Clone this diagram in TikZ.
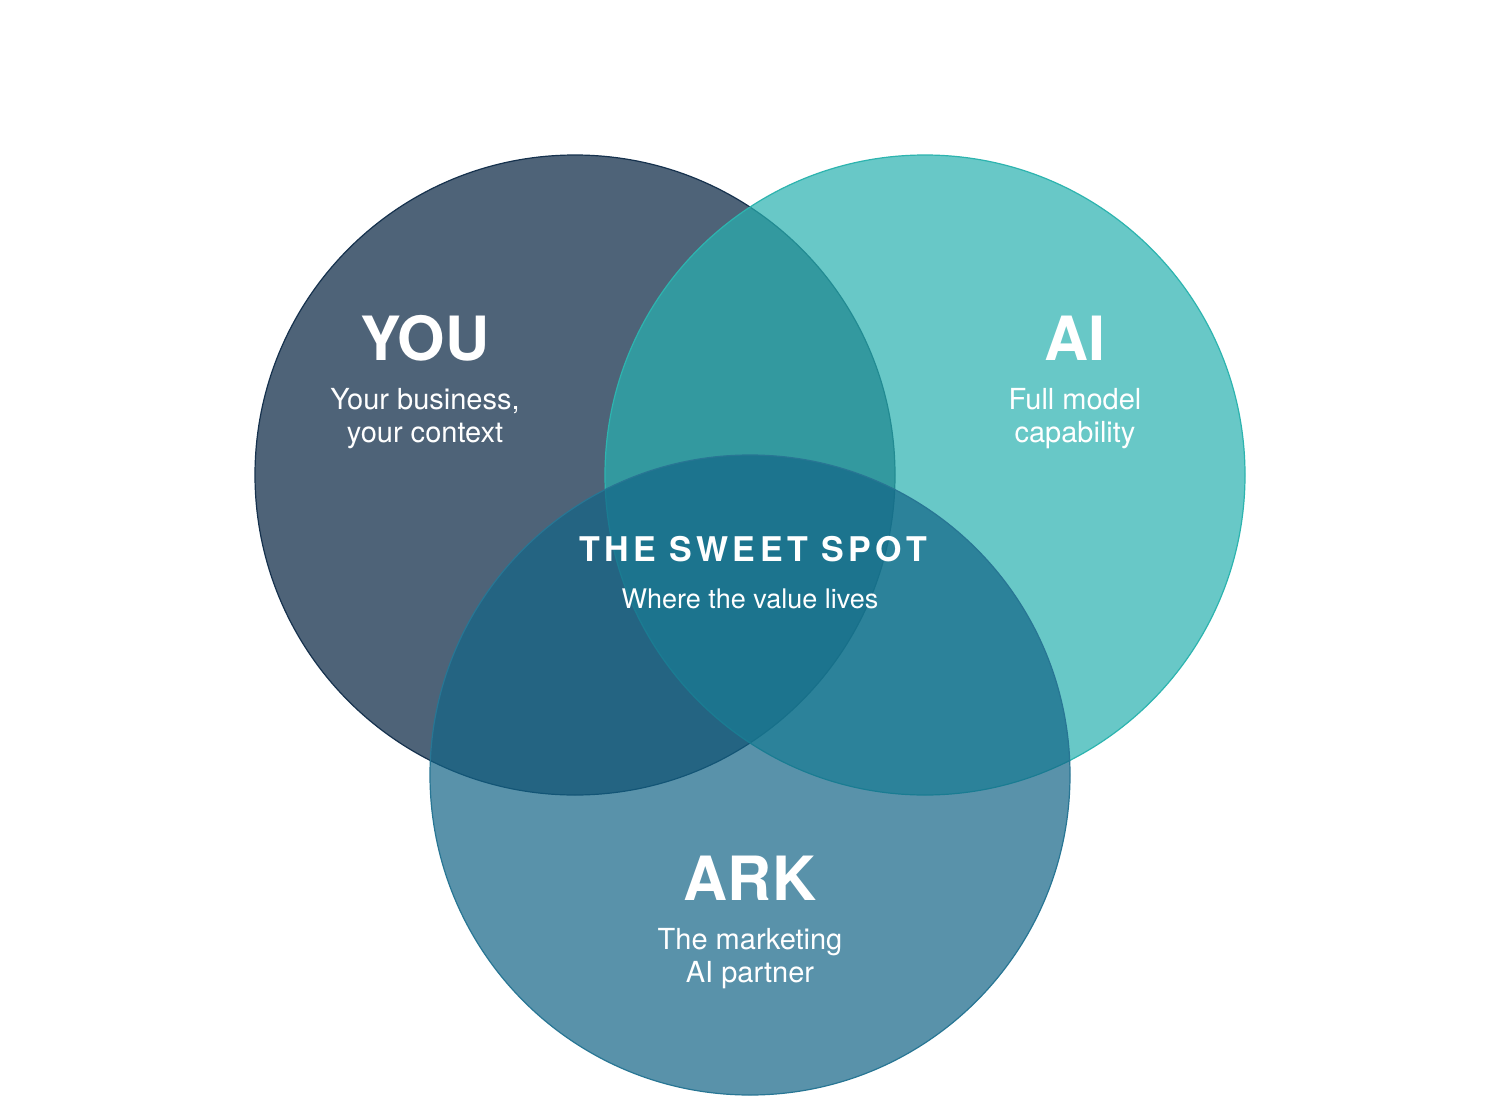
\documentclass[tikz,border=0pt]{standalone}
\usepackage{fontspec}
\setmainfont{TeX Gyre Heros}
\definecolor{youfill}{RGB}{4,34,64}
\definecolor{youline}{RGB}{22,50,78}
\definecolor{aifill}{RGB}{40,177,176}
\definecolor{ailine}{RGB}{45,180,175}
\definecolor{arkfill}{RGB}{19,101,135}
\definecolor{arkline}{RGB}{40,118,148}
\begin{document}
\begin{tikzpicture}[x=1pt,y=-1pt,
 set/.style={circle,minimum size=640pt,inner sep=0pt,fill opacity=.7,line width=1.2pt},
 title/.style={text=white,anchor=base,font=\fontsize{61}{61}\selectfont\bfseries},
 sub/.style={text=white,anchor=base,font=\fontsize{29}{29}\selectfont},
 spot/.style={text=white,anchor=base,font=\fontsize{34}{34}\selectfont\bfseries\addfontfeature{LetterSpace=13}}]
\useasboundingbox[fill=white] (0,0) rectangle (1500,1100);
% the three sets
\node[set,fill=youfill,draw=youline] (you) at (575,475) {};
\node[set,fill=aifill,draw=ailine] (ai) at (925,475) {};
\node[set,fill=arkfill,draw=arkline] (ark) at (750,775) {};
% labels
\node[title] (youtitle) at (425,360) {YOU};
\node[title] (aititle) at (1075,360) {AI};
\node[title] (arktitle) at (750,900) {ARK};
\foreach \name/\x/\y/\txt in {you1/425/409/{Your business,},you2/425/442/{your context},
  ai1/1075/409/{Full model},ai2/1075/442/{capability},
  ark1/750/949/{The marketing},ark2/750/982/{AI partner}}
  \node[sub] (\name) at (\x,\y) {\txt};
\node[spot] (spot1) at (753,561) {THE SWEET SPOT};
\node[sub,font=\fontsize{27}{27}\selectfont] (spot2) at (750,608) {Where the value lives};
\end{tikzpicture}
\end{document}
